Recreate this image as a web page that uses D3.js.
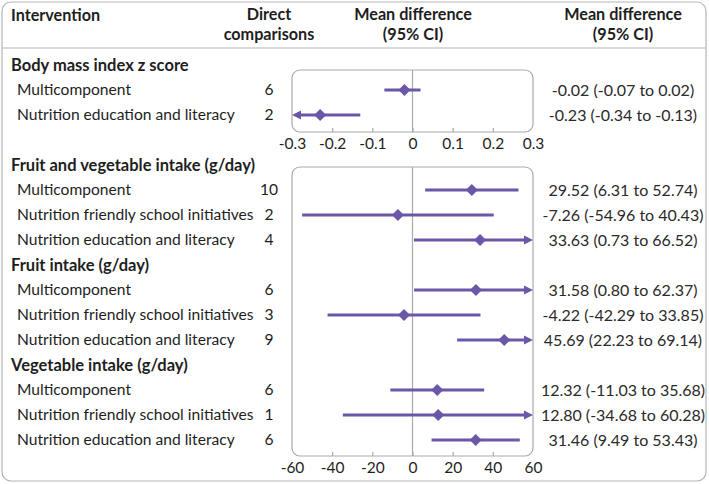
<!DOCTYPE html>
<html>
<head>
<meta charset="utf-8">
<script src="https://cdn.jsdelivr.net/npm/d3@7"></script>
<style>
  html, body { margin: 0; padding: 0; background: #fff; }
  svg { display: block; }
  text { font-family: Lato, "Open Sans", sans-serif; fill: #1e1e1e; }
</style>
</head>
<body>
<svg id="chart" width="709" height="484"></svg>
<script>
// ---- data ----
const groups = ["Body mass index z score", "Fruit and vegetable intake (g/day)", "Fruit intake (g/day)", "Vegetable intake (g/day)"];
const rowGroup = [0, 0, 1, 1, 1, 2, 2, 2, 3, 3, 3];
const rowLabel = ["Multicomponent", "Nutrition education and literacy",
  "Multicomponent", "Nutrition friendly school initiatives", "Nutrition education and literacy",
  "Multicomponent", "Nutrition friendly school initiatives", "Nutrition education and literacy",
  "Multicomponent", "Nutrition friendly school initiatives", "Nutrition education and literacy"];
const comparisons = [6, 2, 10, 2, 4, 6, 3, 9, 6, 1, 6];
const meanDiff = [-0.02, -0.23, 29.52, -7.26, 33.63, 31.58, -4.22, 45.69, 12.32, 12.80, 31.46];
const lower = [-0.07, -0.34, 6.31, -54.96, 0.73, 0.80, -42.29, 22.23, -11.03, -34.68, 9.49];
const upper = [0.02, -0.13, 52.74, 40.43, 66.52, 62.37, 33.85, 69.14, 35.68, 60.28, 53.43];
const bmiTicks = [-0.3, -0.2, -0.1, 0, 0.1, 0.2, 0.3];
const mainTicks = [-60, -40, -20, 0, 20, 40, 60];

// ---- layout ----
const W = 709, H = 484;
const purple = "#6a57a8";
const grey = "#a9a9a9";
const svg = d3.select("#chart");

const lineY = d3.scaleLinear().domain([0, 16]).range([65, 465]);
const groupLine = [0, 4, 8, 12];
const rowLine = [1, 2, 5, 6, 7, 9, 10, 11, 13, 14, 15];

const xBmi = d3.scaleLinear().domain([-0.3, 0.3]).range([292, 533]);
const xMain = d3.scaleLinear().domain([-60, 60]).range([292, 533]);

// outer frame
svg.append("rect").attr("x", 2).attr("y", 2).attr("width", W - 5).attr("height", H - 5)
  .attr("rx", 9).attr("fill", "#fff").attr("stroke", "#b5b5b5").attr("stroke-width", 1.2);
svg.append("line").attr("x1", 2).attr("x2", W - 3).attr("y1", 48).attr("y2", 48)
  .attr("stroke", "#b5b5b5").attr("stroke-width", 1.2);

// header
const hdr = svg.append("g").attr("font-weight", 700).attr("font-size", 16.2);
hdr.append("text").attr("x", 11).attr("y", 21).text("Intervention");
hdr.append("text").attr("x", 269).attr("y", 20).attr("text-anchor", "middle").text("Direct");
hdr.append("text").attr("x", 269).attr("y", 39.5).attr("text-anchor", "middle").text("comparisons");
hdr.append("text").attr("x", 413).attr("y", 20).attr("text-anchor", "middle").text("Mean difference");
hdr.append("text").attr("x", 413).attr("y", 39.5).attr("text-anchor", "middle").text("(95% CI)");
hdr.append("text").attr("x", 623).attr("y", 20).attr("text-anchor", "middle").text("Mean difference");
hdr.append("text").attr("x", 623).attr("y", 39.5).attr("text-anchor", "middle").text("(95% CI)");

// group titles
svg.append("g").selectAll("text").data(groups).join("text")
  .attr("x", 11).attr("y", (d, i) => lineY(groupLine[i])).attr("dy", "0.35em")
  .attr("font-weight", 700).attr("font-size", 16.5).text(d => d);

// row labels, comparisons, values
const rows = d3.range(rowLabel.length);
const fmt = v => v.toFixed(2);
svg.append("g").selectAll("text").data(rows).join("text")
  .attr("x", 17).attr("y", i => lineY(rowLine[i])).attr("dy", "0.35em")
  .attr("font-size", 15.6).text(i => rowLabel[i]);
svg.append("g").selectAll("text").data(rows).join("text")
  .attr("x", 269).attr("y", i => lineY(rowLine[i])).attr("dy", "0.35em")
  .attr("text-anchor", "middle").attr("font-size", 15.6).text(i => comparisons[i]);
svg.append("g").selectAll("text").data(rows).join("text")
  .attr("x", 623).attr("y", i => lineY(rowLine[i])).attr("dy", "0.35em")
  .attr("text-anchor", "middle").attr("font-size", 16).style("fill", "#2a2a2a")
  .text(i => `${fmt(meanDiff[i])} (${fmt(lower[i])} to ${fmt(upper[i])})`);

// panels
function panel(x, ticks, top, bottom, rowIdx, fmtTick) {
  const g = svg.append("g");
  g.append("rect").attr("x", x.range()[0]).attr("y", top)
    .attr("width", x.range()[1] - x.range()[0]).attr("height", bottom - top)
    .attr("rx", 8).attr("fill", "none").attr("stroke", grey).attr("stroke-width", 1.2);
  g.append("line").attr("x1", x(0)).attr("x2", x(0)).attr("y1", top).attr("y2", bottom)
    .attr("stroke", grey).attr("stroke-width", 1.2);
  const ax = g.append("g").attr("transform", `translate(0,${bottom})`)
    .call(d3.axisBottom(x).tickValues(ticks).tickSize(-4).tickPadding(6).tickFormat(fmtTick));
  ax.select(".domain").remove();
  ax.selectAll(".tick line").attr("stroke", grey).attr("stroke-width", 1.2)
    .attr("opacity", (d, i) => (i === 0 || i === ticks.length - 1) ? 0 : 1);
  ax.selectAll(".tick text").attr("font-size", 15.5).attr("font-family", "Lato, 'Open Sans', sans-serif")
    .attr("fill", "#1e1e1e");

  const [dMin, dMax] = x.domain();
  const m = g.append("g").selectAll("g").data(rowIdx).join("g")
    .attr("transform", i => `translate(0,${lineY(rowLine[i])})`);
  m.append("line")
    .attr("x1", i => x(Math.max(lower[i], dMin)) + (lower[i] < dMin ? 6 : 0))
    .attr("x2", i => x(Math.min(upper[i], dMax)) - (upper[i] > dMax ? 6 : 0))
    .attr("stroke", purple).attr("stroke-width", 2.8);
  m.filter(i => upper[i] > dMax).append("path")
    .attr("d", () => { const e = x(dMax); return `M${e},0L${e - 9},-4.5L${e - 9},4.5Z`; })
    .attr("fill", purple);
  m.filter(i => lower[i] < dMin).append("path")
    .attr("d", () => { const e = x(dMin); return `M${e},0L${e + 9},-4.5L${e + 9},4.5Z`; })
    .attr("fill", purple);
  m.append("path")
    .attr("d", i => { const c = x(meanDiff[i]); return `M${c - 6},0L${c},-6L${c + 6},0L${c},6Z`; })
    .attr("fill", purple);
}

const tickFmt = v => String(v);
panel(xBmi, bmiTicks, 70, 132, rows.filter(i => rowGroup[i] === 0), tickFmt);
panel(xMain, mainTicks, 167, 456, rows.filter(i => rowGroup[i] > 0), tickFmt);
</script>
</body>
</html>
